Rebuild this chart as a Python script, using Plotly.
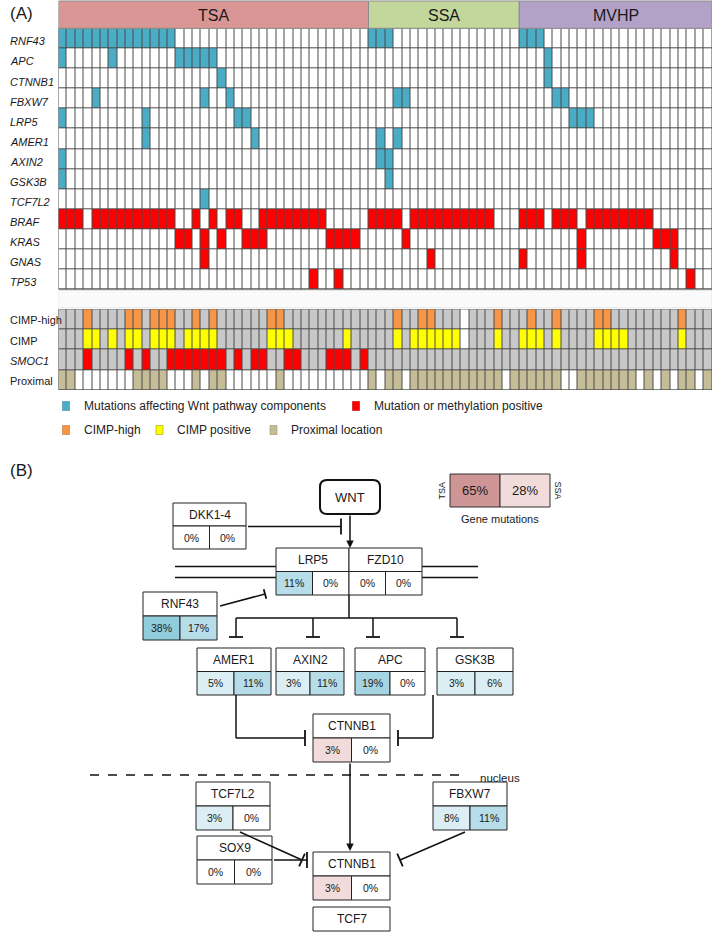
import plotly.graph_objects as go

# ---------------- DATA ----------------
groups = ["TSA", "SSA", "MVHP"]
group_sizes = [37, 18, 23]

genes = ["RNF43", "APC", "CTNNB1", "FBXW7", "LRP5", "AMER1", "AXIN2", "GSK3B",
         "TCF7L2", "BRAF", "KRAS", "GNAS", "TP53"]
wnt_genes = ["RNF43", "APC", "CTNNB1", "FBXW7", "LRP5", "AMER1", "AXIN2", "GSK3B", "TCF7L2"]

# sample indices (0-based, TSA 0-36, SSA 37-54, MVHP 55-77) with a positive call
rnf43_mut = [0, 1, 2, 3, 4, 5, 6, 7, 8, 9, 10, 11, 12, 13, 37, 38, 39, 55, 56, 57]
apc_mut = [0, 6, 14, 15, 16, 17, 18, 58]
ctnnb1_mut = [19, 58]
fbxw7_mut = [4, 17, 20, 40, 41, 59, 60]
lrp5_mut = [0, 10, 21, 22, 61, 62, 63]
amer1_mut = [10, 23, 38, 40]
axin2_mut = [0, 38, 39]
gsk3b_mut = [0, 39]
tcf7l2_mut = [17]
braf_mut = [0, 1, 2, 4, 5, 6, 7, 8, 9, 10, 11, 12, 13, 16, 18, 20, 21, 24, 25, 26, 27, 28,
            29, 30, 31, 37, 38, 39, 40, 42, 43, 44, 45, 46, 47, 48, 49, 50, 51, 55, 56, 57,
            59, 60, 61, 63, 64, 65, 66, 67, 68, 69, 70]
kras_mut = [14, 15, 17, 19, 22, 23, 24, 32, 33, 34, 35, 41, 62, 71, 72, 73]
gnas_mut = [17, 44, 55, 62, 73]
tp53_mut = [30, 33, 75]
gene_hits = [rnf43_mut, apc_mut, ctnnb1_mut, fbxw7_mut, lrp5_mut, amer1_mut, axin2_mut,
             gsk3b_mut, tcf7l2_mut, braf_mut, kras_mut, gnas_mut, tp53_mut]

annot_rows = ["CIMP-high", "CIMP", "SMOC1", "Proximal"]
cimp_high = [3, 8, 9, 11, 12, 13, 16, 18, 25, 26, 40, 43, 44, 52, 56, 59, 64, 65, 74]
cimp_pos = [3, 4, 6, 8, 9, 11, 12, 13, 15, 16, 17, 18, 25, 26, 27, 34, 40, 42, 43, 44, 45,
            46, 47, 52, 55, 56, 57, 59, 64, 65, 66, 67, 74]
cimp_missing = [48]
smoc1_meth = [3, 8, 10, 13, 14, 15, 16, 17, 18, 19, 21, 23, 24, 27, 28, 32, 33, 34, 36]
proximal = [0, 1, 9, 10, 11, 12, 16, 18, 19, 26, 37, 39, 40, 42, 43, 44, 45, 46, 47, 48,
            49, 50, 51, 52, 54, 55, 56, 57, 58, 59, 62, 63, 64, 65, 66, 67, 68, 70, 72, 74,
            75, 77]

# panel B: pathway gene mutation frequencies (TSA %, SSA %)
pathway_genes = ["DKK1-4", "LRP5", "FZD10", "RNF43", "AMER1", "AXIN2", "APC", "GSK3B",
                 "CTNNB1", "TCF7L2", "FBXW7", "SOX9", "CTNNB1_n"]
tsa_pct = [0, 11, 0, 38, 5, 3, 19, 3, 3, 3, 8, 0, 3]
ssa_pct = [0, 0, 0, 17, 11, 11, 0, 6, 0, 0, 11, 0, 0]
oncogenes = ["CTNNB1", "CTNNB1_n"]
overall_labels = ["TSA", "SSA"]
overall_pct = [65, 28]

# ---------------- STYLE / LAYOUT ----------------
W, H = 715, 940
FONT = "Liberation Sans"
code_colors = ["#ffffff", "#4bacc6", "#ff0000", "#f79646", "#ffff00", "#c8c8c8", "#c4bd97"]
group_colors = ["#d99694", "#c3d69b", "#b3a2c7"]

GX0, GX1 = 58.5, 712.0
GY0, GY1 = 28.3, 289.5       # gene block (pixels from top)
AY0, AY1 = 309.3, 390.0      # annotation block

def py(v):
    return 1 - v / H

n = sum(group_sizes)
ncode = len(code_colors)
cscale = []
for k, c in enumerate(code_colors):
    cscale.append([k / ncode, c])
    cscale.append([(k + 1) / ncode, c])

z_genes = []
for g, hits in zip(genes, gene_hits):
    code = 1 if g in wnt_genes else 2
    row = [0] * n
    for i in hits:
        row[i] = code
    z_genes.append(row)

def make_row(base, hits, code, missing=()):
    row = [base] * n
    for i in hits:
        row[i] = code
    for i in missing:
        row[i] = 0
    return row

z_annot = [
    make_row(5, cimp_high, 3, cimp_missing),
    make_row(5, cimp_pos, 4, cimp_missing),
    make_row(5, smoc1_meth, 2),
    make_row(0, proximal, 6),
]

fig = go.Figure()
fig.add_trace(go.Heatmap(z=z_genes, x=list(range(n)), y=list(range(len(genes))),
                         colorscale=cscale, zmin=-0.5, zmax=ncode - 0.5, showscale=False,
                         xgap=1, ygap=1, hoverinfo="skip", xaxis="x", yaxis="y"))
fig.add_trace(go.Heatmap(z=z_annot, x=list(range(n)), y=list(range(len(annot_rows))),
                         colorscale=cscale, zmin=-0.5, zmax=ncode - 0.5, showscale=False,
                         xgap=1, ygap=1, hoverinfo="skip", xaxis="x", yaxis="y3"))
# invisible anchor trace for pixel-coordinate overlay axes
fig.add_trace(go.Scatter(x=[0], y=[0], mode="markers", marker=dict(opacity=0),
                         hoverinfo="skip", showlegend=False, xaxis="x2", yaxis="y2"))

shapes = []
annots = []

# grid backgrounds (dark lines visible through cell gaps)
for yref, nrows in (("y", len(genes)), ("y3", len(annot_rows))):
    shapes.append(dict(type="rect", xref="x", yref=yref, x0=-0.5, x1=n - 0.5,
                       y0=-0.5, y1=nrows - 0.5, fillcolor="#4a4a4a",
                       line=dict(color="#4a4a4a", width=1), layer="below"))

# faint spacer band between blocks
shapes.append(dict(type="rect", xref="x", yref="y2", x0=-0.5, x1=n - 0.5, y0=GY1 + 1,
                   y1=AY0 - 1.5, fillcolor="#fafafa", line=dict(color="#e6e6e6", width=1),
                   layer="below"))

# group header
start = -0.5
for gname, size, col in zip(groups, group_sizes, group_colors):
    shapes.append(dict(type="rect", xref="x", yref="y2", x0=start, x1=start + size,
                       y0=1, y1=GY0, fillcolor=col, line=dict(color="#8a8a8a", width=1)))
    annots.append(dict(xref="x", yref="y2", x=start + size / 2, y=15, text=gname,
                       showarrow=False, font=dict(family=FONT, size=16, color="#1a1a1a")))
    start += size

# row labels
for i, g in enumerate(genes):
    annots.append(dict(xref="x2", yref="y", x=8, y=i, text="<i>%s</i>" % g, xanchor="left",
                       yshift=-3, showarrow=False, font=dict(family=FONT, size=11, color="#1a1a1a")))
for i, lab in enumerate(annot_rows):
    txt = "<i>%s</i>" % lab if lab == "SMOC1" else lab
    annots.append(dict(xref="x2", yref="y3", x=8, y=i, text=txt, xanchor="left", yshift=-1,
                       showarrow=False, font=dict(family=FONT, size=11, color="#1a1a1a")))

annots.append(dict(xref="x2", yref="y2", x=8, y=13, text="(A)", xanchor="left",
                   showarrow=False, font=dict(family=FONT, size=17, color="#1a1a1a")))

# legend for panel A
legend_items = [
    (62.5, 406, code_colors[1], "#3a8aa3", "Mutations affecting Wnt pathway components"),
    (352.5, 406, code_colors[2], "#c00000", "Mutation or methylation positive"),
    (62.5, 430, code_colors[3], "#c87030", "CIMP-high"),
    (156.0, 430, code_colors[4], "#a0a000", "CIMP positive"),
    (270.0, 430, code_colors[6], "#9a9370", "Proximal location"),
]
for lx, ly, fc, lc, txt in legend_items:
    shapes.append(dict(type="rect", xref="x2", yref="y2", x0=lx, x1=lx + 7, y0=ly - 4.5,
                       y1=ly + 4.5, fillcolor=fc, line=dict(color=lc, width=0.6)))
    annots.append(dict(xref="x2", yref="y2", x=lx + 19, y=ly, text=txt, xanchor="left",
                       showarrow=False, font=dict(family=FONT, size=12, color="#222")))

# ---------------- PANEL B ----------------
annots.append(dict(xref="x2", yref="y2", x=8, y=470, text="(B)", xanchor="left",
                   showarrow=False, font=dict(family=FONT, size=17, color="#1a1a1a")))

def pct_color(p, onco):
    if p == 0:
        return "#ffffff"
    if onco:
        return "#f2dcdb"
    if p < 10:
        return "#dbeef4"
    if p < 18:
        return "#b7dee8"
    if p < 30:
        return "#a5d5e2"
    return "#92cddc"

def line(x0, y0, x1, y1, w=1.5, dash=None):
    d = dict(color="#111", width=w)
    if dash:
        d["dash"] = dash
    shapes.append(dict(type="line", xref="x2", yref="y2", x0=x0, y0=y0, x1=x1, y1=y1, line=d))

def text(x, y, s, size=12, anchor="center", angle=0, color="#1a1a1a"):
    annots.append(dict(xref="x2", yref="y2", x=x, y=y, text=s, xanchor=anchor, textangle=angle,
                       showarrow=False, font=dict(family=FONT, size=size, color=color)))

box_pos = {
    "DKK1-4": (173, 503, 246, 549),
    "LRP5": (276, 548, 349, 595),
    "FZD10": (349, 548, 422, 595),
    "RNF43": (143, 592, 217, 640),
    "AMER1": (197, 648, 271, 695),
    "AXIN2": (276, 648, 344, 695),
    "APC": (355, 648, 425, 695),
    "GSK3B": (437, 648, 513, 695),
    "CTNNB1": (313, 714, 390, 762),
    "TCF7L2": (196, 782, 270, 830),
    "FBXW7": (433, 782, 507, 830),
    "SOX9": (197, 836, 272, 884),
    "CTNNB1_n": (313, 852, 390, 900),
}

# membrane lines (drawn before boxes)
for yy in (566.5, 577.5):
    line(175, yy, 276, yy, 1.5)
    line(422, yy, 478, yy, 1.5)

for g, tp, sp in zip(pathway_genes, tsa_pct, ssa_pct):
    x0, y0, x1, y1 = box_pos[g]
    ym = (y0 + y1) / 2
    xm = (x0 + x1) / 2
    onco = g in oncogenes
    shapes.append(dict(type="rect", xref="x2", yref="y2", x0=x0, x1=x1, y0=y0, y1=ym,
                       fillcolor="#ffffff", line=dict(color="#222", width=1)))
    shapes.append(dict(type="rect", xref="x2", yref="y2", x0=x0, x1=xm, y0=ym, y1=y1,
                       fillcolor=pct_color(tp, onco), line=dict(color="#222", width=1)))
    shapes.append(dict(type="rect", xref="x2", yref="y2", x0=xm, x1=x1, y0=ym, y1=y1,
                       fillcolor=pct_color(sp, onco), line=dict(color="#222", width=1)))
    text(xm, (y0 + ym) / 2, g.split("_")[0], 12)
    text((x0 + xm) / 2, (ym + y1) / 2, "%d%%" % tp, 10.5)
    text((xm + x1) / 2, (ym + y1) / 2, "%d%%" % sp, 10.5)

# TCF7 box
shapes.append(dict(type="rect", xref="x2", yref="y2", x0=313, x1=390, y0=907, y1=931,
                   fillcolor="#ffffff", line=dict(color="#222", width=1)))
text(351.5, 919, "TCF7", 12)

# WNT rounded box
x0, y0, x1, y1, r = 320, 480, 380, 514, 7
path = (f"M {x0+r},{y0} L {x1-r},{y0} Q {x1},{y0} {x1},{y0+r} L {x1},{y1-r} "
        f"Q {x1},{y1} {x1-r},{y1} L {x0+r},{y1} Q {x0},{y1} {x0},{y1-r} "
        f"L {x0},{y0+r} Q {x0},{y0} {x0+r},{y0} Z")
shapes.append(dict(type="path", xref="x2", yref="y2", path=path, fillcolor="#ffffff",
                   line=dict(color="#111", width=2)))
text(350, 497, "WNT", 13)

def arrow(xh, yh, xt, yt):
    annots.append(dict(xref="x2", yref="y2", axref="x2", ayref="y2", x=xh, y=yh, ax=xt, ay=yt,
                       text="", showarrow=True, arrowhead=2, arrowsize=1, arrowwidth=1.5,
                       arrowcolor="#111"))

def inhibit(xa, ya, xb, yb, half=7):
    line(xa, ya, xb, yb, 1.5)
    dx, dy = xb - xa, yb - ya
    L = (dx * dx + dy * dy) ** 0.5
    px, pyy = -dy / L * half, dx / L * half
    line(xb - px, yb - pyy, xb + px, yb + pyy, 1.8)

arrow(350, 548, 350, 514)
inhibit(248, 526.5, 341, 526.5, 8)
inhibit(220, 606, 265, 594, 5)

# branch to destruction complex
line(349, 595, 349, 618)
line(236, 618, 457, 618)
for bx in (236, 313, 373, 457):
    line(bx, 618, bx, 637)
    line(bx - 7, 637, bx + 7, 637, 1.8)

# destruction complex -> CTNNB1
line(236, 695, 236, 738)
inhibit(236, 738, 305, 738, 8)
line(433, 695, 433, 738)
inhibit(433, 738, 398, 738, 8)

arrow(350, 851, 350, 762)

# nucleus boundary
line(90, 775, 465, 775, 1.5, "dash")
text(478, 778, "nucleus", 11.5, anchor="left")

inhibit(240, 832, 302, 860, 7)
inhibit(465, 832, 400, 860, 7)
inhibit(274, 860, 307, 860, 8)

# overall gene mutation box
shapes.append(dict(type="rect", xref="x2", yref="y2", x0=450, x1=500, y0=474, y1=507,
                   fillcolor="#cd9596", line=dict(color="#333", width=1)))
shapes.append(dict(type="rect", xref="x2", yref="y2", x0=500, x1=550, y0=474, y1=507,
                   fillcolor="#f2dcdb", line=dict(color="#333", width=1)))
text(475, 490.5, "%d%%" % overall_pct[0], 13)
text(525, 490.5, "%d%%" % overall_pct[1], 13)
text(441, 490.5, overall_labels[0], 9, angle=-90)
text(558, 490.5, overall_labels[1], 9, angle=90)
text(500, 519, "Gene mutations", 11)

fig.update_layout(
    width=W, height=H, margin=dict(l=0, r=0, t=0, b=0),
    paper_bgcolor="#ffffff", plot_bgcolor="rgba(0,0,0,0)", showlegend=False,
    xaxis=dict(domain=[GX0 / W, GX1 / W], range=[-0.5, n - 0.5], visible=False,
               showgrid=False, zeroline=False, fixedrange=True),
    yaxis=dict(domain=[py(GY1), py(GY0)], range=[len(genes) - 0.5, -0.5], visible=False,
               showgrid=False, zeroline=False, fixedrange=True),
    yaxis3=dict(domain=[py(AY1), py(AY0)], range=[len(annot_rows) - 0.5, -0.5], visible=False,
                showgrid=False, zeroline=False, fixedrange=True, anchor="x"),
    xaxis2=dict(domain=[0, 1], range=[0, W], visible=False, showgrid=False, zeroline=False,
                fixedrange=True, anchor="y2"),
    yaxis2=dict(domain=[0, 1], range=[H, 0], visible=False, showgrid=False, zeroline=False,
                fixedrange=True, anchor="x2"),
    shapes=shapes, annotations=annots,
)

fig.write_html("out.html", config={"displayModeBar": False},
               post_script="document.body.style.margin='0px';")
